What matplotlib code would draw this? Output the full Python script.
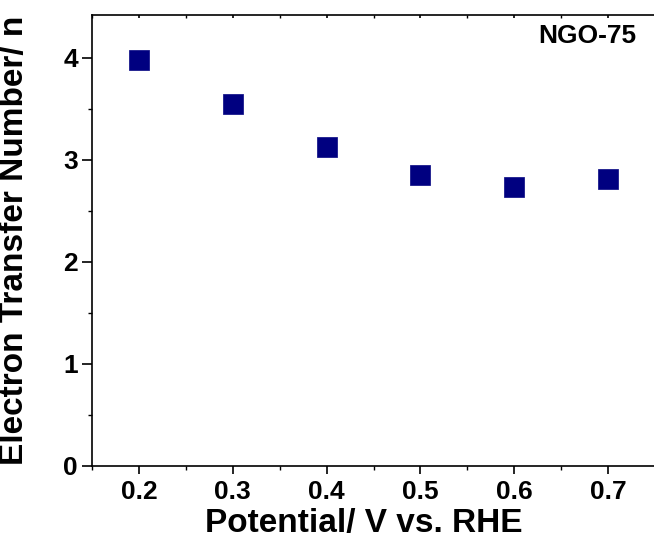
import matplotlib
matplotlib.use("Agg")
import matplotlib.pyplot as plt
from matplotlib.ticker import MultipleLocator

plt.rcParams['font.family'] = ['Liberation Sans', 'DejaVu Sans']
plt.rcParams['font.weight'] = 'bold'

potential = [0.2, 0.3, 0.4, 0.5, 0.6, 0.7]
electron_n = [3.98, 3.55, 3.13, 2.85, 2.73, 2.81]
x_ticks = [0.2, 0.3, 0.4, 0.5, 0.6, 0.7]
y_ticks = [0, 1, 2, 3, 4]

W, H = 654, 545
fig = plt.figure(figsize=(W / 100, H / 100), dpi=100)
left, right, top, bottom = 92, 655, 15, 465.7
ax = fig.add_axes([left / W, (H - bottom) / H, (right - left) / W, (bottom - top) / H])

ax.plot(potential, electron_n, linestyle='none', marker='s', markersize=14.2,
        markerfacecolor='#000080', markeredgecolor='#1a1a8c', markeredgewidth=0.6)

ax.set_xlim(0.15, 0.75)
ax.set_ylim(0, 4.42)
ax.set_xticks(x_ticks)
ax.set_xticklabels([f"{v:.1f}" for v in x_ticks])
ax.set_yticks(y_ticks)
ax.xaxis.set_minor_locator(MultipleLocator(0.05))
ax.yaxis.set_minor_locator(MultipleLocator(0.5))

for s in ['left', 'bottom', 'top']:
    ax.spines[s].set_linewidth(1.2)
ax.spines['right'].set_visible(False)

ax.tick_params(axis='x', which='major', direction='out', length=5.5, width=1.2,
               labelsize=19, pad=5, top=True)
ax.tick_params(axis='x', which='minor', direction='out', length=3, width=1.0, top=True)
ax.tick_params(axis='y', which='major', direction='out', length=7, width=1.2,
               labelsize=19, pad=3)
ax.tick_params(axis='y', which='minor', direction='out', length=3, width=1.0)
# top ticks: tiny, inward
for t in ax.xaxis.get_major_ticks() + ax.xaxis.get_minor_ticks():
    t.tick2line.set_markersize(2)
    t.tick2line.set_marker(3)  # TICKDOWN

for lbl in ax.get_xticklabels() + ax.get_yticklabels():
    lbl.set_fontweight('bold')

ax.set_xlabel('Potential/ V vs. RHE', fontsize=24, fontweight='bold')
ax.set_ylabel('Electron Transfer Number/ n', fontsize=24, fontweight='bold')
ax.xaxis.set_label_coords((363.5 - left) / (right - left), -(508 - bottom) / (bottom - top))
ax.yaxis.set_label_coords(-(92 - 30) / (right - left), 0.5)

ax.text(636 / W, 1 - 36 / H, 'NGO-75', transform=fig.transFigure, fontsize=19,
        fontweight='bold', ha='right', va='center')

fig.savefig('out.png', dpi=100)
